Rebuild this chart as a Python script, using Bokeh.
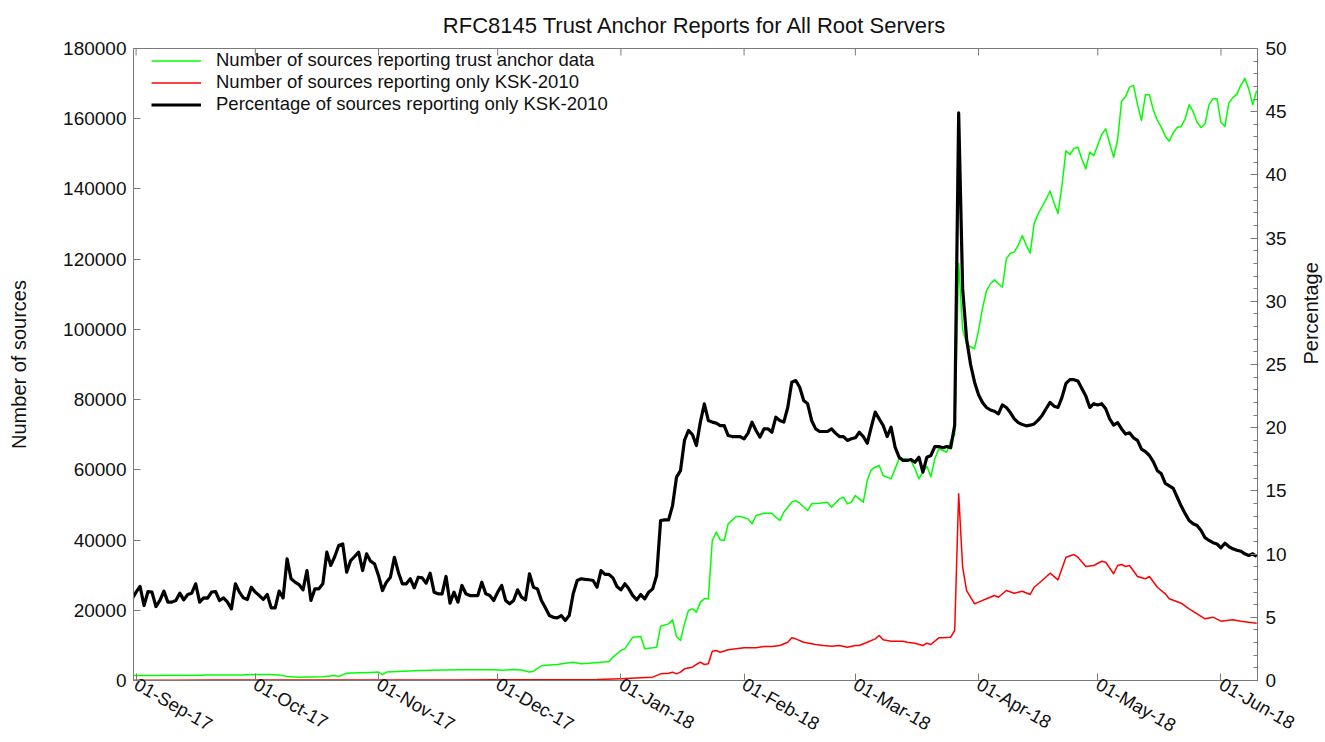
import math
import datetime as dt
from bokeh.plotting import figure
from bokeh.models import (LinearAxis, Range1d, FixedTicker, SingleIntervalTicker,
                          DatetimeTickFormatter, NumeralTickFormatter, Legend, LegendItem)
from bokeh.embed import file_html
from bokeh.resources import INLINE

# ---------------- data ----------------
ORIGIN = "2017-09-01"          # day offsets below are counted from this date

tick_months = ["2017-09-01", "2017-10-01", "2017-11-01", "2017-12-01", "2018-01-01",
               "2018-02-01", "2018-03-01", "2018-04-01", "2018-05-01", "2018-06-01"]

# Percentage of sources reporting only KSK-2010 : one value per day, first day = 2017-08-31
black_first_day = -1
black_pct = [
    6.46, 6.99, 7.44, 5.93, 7.04, 6.99, 5.85, 6.33, 7.07, 6.20, 6.20,
    6.33, 6.91, 6.38, 6.80, 6.91, 7.65, 6.20, 6.54, 6.51, 6.99,
    7.04, 6.33, 6.54, 6.20, 5.67, 7.65, 6.99, 6.54, 6.41, 7.38,
    6.99, 6.72, 6.41, 6.80, 5.75, 5.75, 7.07, 6.54, 9.63, 8.05,
    7.78, 7.59, 7.17, 8.70, 6.33, 7.25, 7.25, 7.65, 10.15, 9.10,
    9.81, 10.68, 10.81, 8.57, 9.49, 9.81, 10.15, 8.70, 10.02, 9.44,
    9.23, 8.31, 7.12, 7.78, 8.17, 9.75, 8.57, 7.65, 7.65, 8.05,
    7.33, 8.17, 8.12, 7.70, 8.49, 6.99, 6.86, 6.86, 8.23, 6.12,
    6.99, 6.20, 7.52, 6.86, 6.72, 6.72, 6.72, 7.78, 6.86, 6.72,
    6.33, 6.99, 7.52, 6.33, 6.07, 6.33, 7.17, 6.59, 6.38, 8.44,
    7.38, 7.25, 6.33, 5.75, 5.14, 5.00, 4.96, 5.14, 4.75, 5.14,
    6.86, 7.91, 8.05, 8.00, 7.97, 7.91, 7.38, 8.70, 8.39, 8.39,
    8.12, 7.44, 7.17, 7.65, 7.25, 6.72, 6.38, 6.80, 6.46, 6.99,
    7.25, 8.31, 12.66, 12.71, 12.71, 13.84, 16.09, 16.61, 18.99, 19.78,
    19.46, 18.59, 20.44, 21.89, 20.57, 20.44, 20.36, 20.17, 20.17, 19.38,
    19.30, 19.30, 19.30, 19.12, 19.57, 20.44, 19.78, 19.25, 19.91, 19.91,
    19.64, 20.83, 20.57, 20.44, 21.62, 23.60, 23.73, 23.20, 22.15, 21.89,
    20.57, 19.91, 19.70, 19.70, 19.70, 19.91, 19.57, 19.30, 19.30, 18.99,
    19.12, 19.20, 19.64, 19.30, 18.77, 20.04, 21.23, 20.70, 20.17, 19.30,
    20.04, 18.46, 17.67, 17.41, 17.41, 17.48, 17.27, 17.67, 16.48, 17.67,
    17.80, 18.51, 18.51, 18.41, 18.51, 18.41, 20.20, 44.90, 31.00, 27.00,
    25.00, 23.60, 22.60, 22.00, 21.60, 21.40, 21.30, 21.10, 21.80, 21.60,
    21.20, 20.70, 20.40, 20.25, 20.15, 20.20, 20.30, 20.60, 20.97, 21.50,
    22.00, 21.70, 21.60, 22.40, 23.50, 23.80, 23.80, 23.70, 23.10, 22.50,
    21.60, 21.90, 21.80, 21.90, 21.50, 20.70, 20.20, 20.40, 19.90, 19.50,
    19.60, 19.20, 19.00, 18.30, 18.10, 17.80, 17.30, 16.60, 16.35, 15.60,
    15.40, 15.20, 14.50, 13.80, 13.20, 12.66, 12.40, 12.26, 11.87, 11.30,
    11.08, 10.90, 10.80, 10.50, 10.86, 10.60, 10.42, 10.30, 10.23, 10.02,
    9.89, 10.02, 9.81,
]

# Number of sources reporting trust anchor data
green_day = [
    -1, 2, 6, 10, 14, 18, 22, 26, 30, 33,
    36, 38, 41, 44, 47, 50, 51, 53, 56, 59,
    61, 62, 63, 66, 70, 74, 78, 82, 86, 90,
    92, 95, 97, 99, 100, 102, 104, 106, 108, 110,
    112, 114, 117, 119, 120, 122, 123, 125, 127, 128,
    130, 131, 132, 134, 135, 136, 137, 138, 139, 140,
    141, 142, 143, 144, 145, 146, 147, 148, 149, 151,
    152, 154, 155, 156, 158, 160, 161, 162, 163, 165,
    166, 167, 169, 170, 172, 174, 175, 177, 178, 179,
    180, 181, 182, 183, 184, 185, 186, 187, 188, 190,
    192, 193, 194, 195, 196, 197, 198, 199, 200, 201,
    202, 203, 204, 205, 206, 207, 208, 209, 210, 211,
    212, 213, 214, 215, 216, 217, 218, 219, 220, 221,
    222, 223, 224, 225, 226, 227, 228, 229, 230, 231,
    232, 233, 234, 235, 236, 237, 238, 239, 240, 241,
    242, 243, 244, 245, 246, 247, 248, 249, 250, 251,
    252, 253, 254, 255, 256, 257, 258, 259, 260, 261,
    262, 263, 264, 265, 266, 267, 268, 269, 270, 271,
    272, 273, 274, 275, 276, 277, 278, 279, 280, 281,
    282,
]
green_count = [
    1450, 1400, 1450, 1500, 1450, 1550, 1550, 1600, 1700, 1700,
    1600, 1150, 950, 1000, 1100, 1420, 1150, 2100, 2200, 2300,
    2400, 1700, 2400, 2550, 2800, 2900, 3000, 3050, 3050, 3050,
    2900, 3100, 3000, 2400, 2650, 4200, 4400, 4560, 4940, 5220,
    4750, 4900, 5220, 5410, 6650, 8540, 9020, 12340, 12530, 9020,
    9300, 9490, 15470, 16130, 17270, 12530, 11390, 16130, 19940, 20410,
    19460, 22320, 23260, 23260, 39870, 42250, 40060, 39870, 44620, 46710,
    46710, 46040, 44620, 46990, 47660, 47660, 46520, 45570, 47940, 50790,
    51260, 50500, 48420, 50310, 50500, 50790, 49360, 51740, 52210, 50310,
    50790, 52690, 51740, 50790, 56960, 60000, 60740, 61230, 58380, 57430,
    63120, 63120, 63120, 62660, 60290, 57430, 59500, 61000, 58000, 63120,
    65970, 65500, 65020, 68350, 70000, 118760, 100000, 96000, 95000, 94500,
    99700, 106000, 111000, 113000, 114100, 113000, 112000, 120100, 121700, 122000,
    124000, 126700, 124000, 121700, 130200, 132900, 135000, 137000, 139400, 136000,
    133000, 141000, 150900, 149800, 151500, 151900, 148500, 145700, 150500, 149500,
    152500, 155500, 157100, 153000, 149000, 154000, 165000, 166300, 169000, 169500,
    164000, 159500, 166800, 166800, 162500, 159500, 157600, 155000, 153600, 156000,
    157500, 157800, 160000, 164000, 162000, 159000, 157500, 158500, 164000, 165700,
    165700, 159000, 157800, 164500, 166000, 167000, 169500, 171500, 168500, 164000,
    168000,
]

# Number of sources reporting only KSK-2010
red_day = [
    -1, 10, 20, 30, 40, 50, 60, 70, 80, 90,
    100, 110, 116, 122, 127, 130, 132, 134, 135, 136,
    137, 138, 140, 141, 142, 143, 144, 145, 146, 147,
    149, 151, 153, 156, 158, 160, 162, 164, 165, 166,
    168, 171, 173, 175, 177, 179, 181, 182, 184, 186,
    187, 188, 190, 193, 194, 196, 198, 199, 200, 202,
    203, 205, 206, 207, 208, 209, 211, 212, 214, 216,
    217, 219, 221, 223, 225, 226, 228, 230, 232, 234,
    236, 237, 239, 241, 243, 244, 246, 247, 248, 249,
    250, 252, 254, 255, 257, 259, 260, 263, 265, 267,
    269, 271, 273, 276, 278, 280, 282,
]
red_count = [
    100, 100, 120, 120, 130, 150, 150, 160, 170, 180,
    200, 200, 250, 480, 770, 950, 1900, 2090, 2370, 1900,
    2370, 3330, 3800, 4560, 5210, 4560, 4750, 8350, 8540, 8060,
    8740, 9020, 9310, 9310, 9680, 9680, 9970, 10900, 12150, 11870,
    10900, 10250, 9970, 9770, 9970, 9480, 9970, 9970, 10900, 11870,
    12820, 11590, 11190, 11190, 10900, 10620, 9970, 10620, 10250, 12150,
    12150, 12340, 14240, 53170, 32270, 25630, 21840, 22310, 23270, 24210,
    23720, 25630, 24870, 25430, 24490, 26570, 28480, 30560, 28680, 35120,
    35880, 35120, 32470, 32750, 33970, 33690, 30390, 32750, 33040, 32470,
    32750, 29620, 28960, 29620, 26570, 24690, 23270, 22020, 20420, 19000,
    17570, 18030, 16890, 17270, 16890, 16600, 16320,
]

# ---------------- helpers ----------------
origin = dt.datetime.strptime(ORIGIN, "%Y-%m-%d")


def day(d):
    return origin + dt.timedelta(days=d)


def ms(t):
    return (t - dt.datetime(1970, 1, 1)).total_seconds() * 1000.0


black_x = [day(black_first_day + i) for i in range(len(black_pct))]
green_x = [day(d) for d in green_day]
red_x = [day(d) for d in red_day]
month_dt = [dt.datetime.strptime(s, "%Y-%m-%d") for s in tick_months]
month_ticks = [ms(t) for t in month_dt]

FONT = "Liberation Sans"
AX = "#7a7a7a"
TXT = "#111111"

Y_MAX = 180000
p = figure(frame_width=1124, frame_height=632,
           x_axis_type="datetime",
           x_range=Range1d(start=day(-0.65), end=day(282.2)),
           y_range=Range1d(0, Y_MAX),
           output_backend="svg", toolbar_location=None,
           min_border_left=133, min_border_right=68, min_border_top=48, min_border_bottom=54)

p.extra_y_ranges = {"pct": Range1d(0, 50)}

p.title.text = "RFC8145 Trust Anchor Reports for All Root Servers"
p.title.align = "center"
p.title.text_font = FONT
p.title.text_font_size = "22px"
p.title.text_font_style = "normal"
p.title.text_color = TXT
p.title.standoff = 21

p.grid.visible = False
p.outline_line_color = AX
p.outline_line_width = 1
p.background_fill_color = "white"
p.border_fill_color = "white"

l_green = p.line(green_x, green_count, line_color="#00ff00", line_width=1.5, line_join="round")
l_red = p.line(red_x, red_count, line_color="#ff0000", line_width=1.5, line_join="round")
l_black = p.line(black_x, black_pct, y_range_name="pct", line_color="black",
                 line_width=3.2, line_join="round")

# mirrored month ticks on the top border (half of each dash is clipped by the frame)
p.scatter(month_dt, [Y_MAX] * len(month_dt), marker="dash", angle=math.pi / 2, size=14,
          line_color=AX, line_width=1)

# x axis (bottom)
xa = p.xaxis[0]
xa.ticker = FixedTicker(ticks=month_ticks)
fmt = "%d-%b-%y"
xa.formatter = DatetimeTickFormatter(days=fmt, months=fmt, years=fmt, hours=fmt,
                                     minutes=fmt, seconds=fmt, milliseconds=fmt,
                                     microseconds=fmt, minsec=fmt, hourmin=fmt)
xa.major_label_orientation = -math.pi / 6

# left axis
ya = p.yaxis[0]
ya.ticker = SingleIntervalTicker(interval=20000, num_minor_ticks=0)
ya.formatter = NumeralTickFormatter(format="0")
ya.axis_label = "Number of sources"
ya.axis_label_standoff = 30

# right axis
yr = LinearAxis(y_range_name="pct", ticker=SingleIntervalTicker(interval=5, num_minor_ticks=5),
                axis_label="Percentage")
p.add_layout(yr, "right")
yr.axis_label_standoff = 21

for ax in (xa, ya, yr):
    ax.axis_line_color = AX
    ax.major_tick_line_color = AX
    ax.major_tick_in = 7
    ax.major_tick_out = 0
    ax.minor_tick_in = 0
    ax.minor_tick_out = 0
    ax.major_label_text_font = FONT
    ax.major_label_text_font_size = "19px"
    ax.major_label_text_color = TXT
    ax.axis_label_text_font = FONT
    ax.axis_label_text_font_size = "20px"
    ax.axis_label_text_font_style = "normal"
    ax.axis_label_text_color = TXT
xa.major_label_text_font_size = "18.5px"
xa.major_label_standoff = 2
ya.major_label_standoff = 7
yr.major_label_standoff = 8
yr.minor_tick_in = 4
yr.minor_tick_line_color = AX
yr.axis_label_orientation = math.pi / 2

legend = Legend(items=[
    LegendItem(label="Number of sources reporting trust anchor data", renderers=[l_green]),
    LegendItem(label="Number of sources reporting only KSK-2010", renderers=[l_red]),
    LegendItem(label="Percentage of sources reporting only KSK-2010", renderers=[l_black]),
], location=(18, 565))
legend.border_line_color = None
legend.background_fill_alpha = 0
legend.label_text_font = FONT
legend.label_text_font_size = "18.5px"
legend.label_text_color = TXT
legend.glyph_width = 50
legend.glyph_height = 19
legend.label_height = 19
legend.spacing = 0
legend.padding = 4
legend.margin = 0
legend.label_standoff = 15
p.add_layout(legend, "center")

open("out.html", "w").write(file_html(p, INLINE))
